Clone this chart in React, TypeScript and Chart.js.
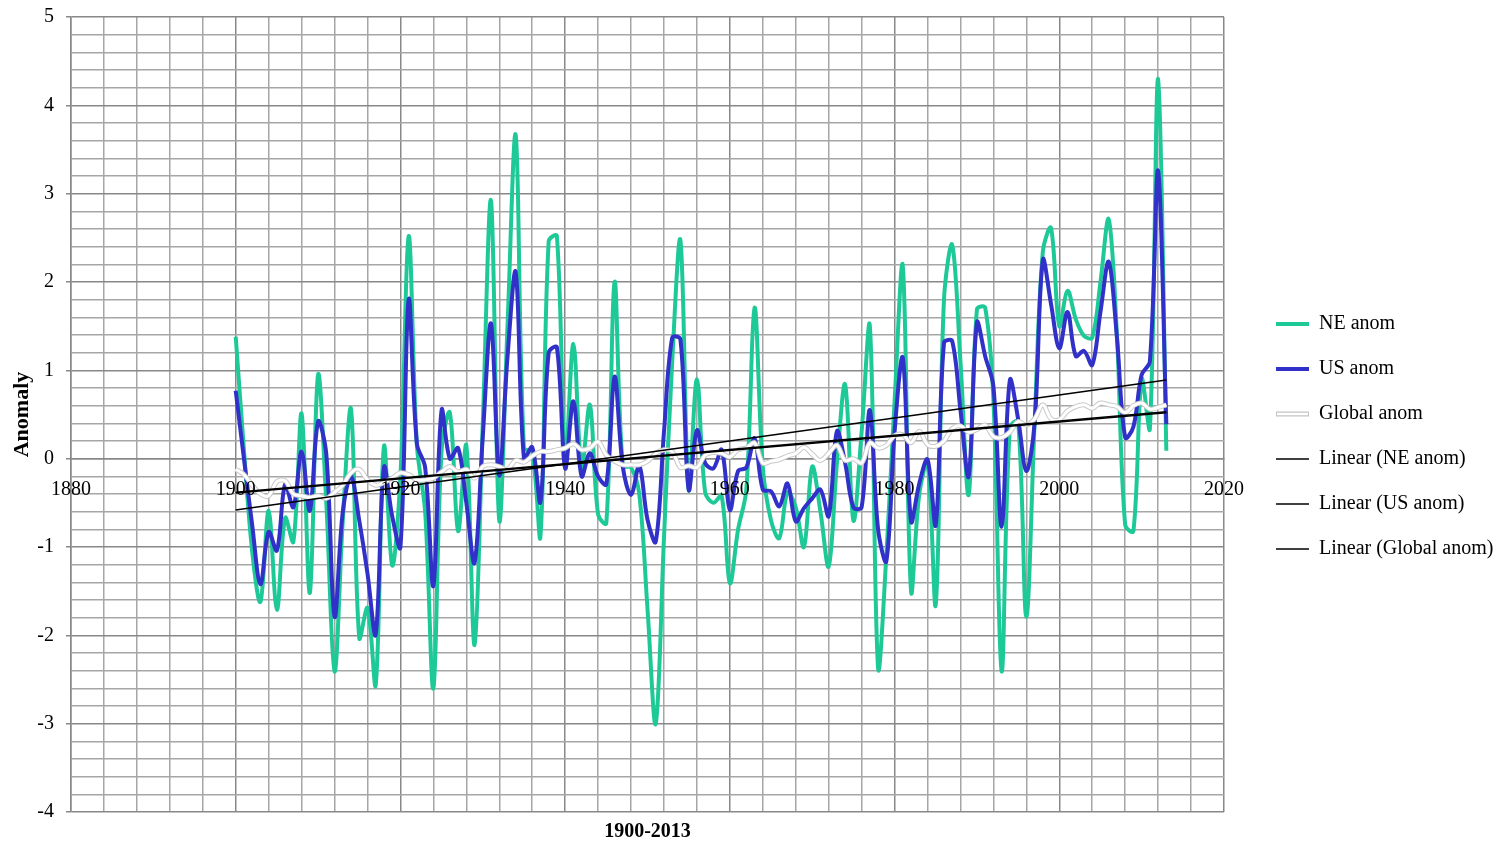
import React, { useEffect, useRef } from 'react';
import { Chart, registerables } from 'chart.js';

Chart.register(...registerables);

const FIRST_YEAR = 1900;

const neAnom = [
  1.38, 0.1, -1.05, -1.62, -0.59, -1.71, -0.67, -0.94, 0.51, -1.52,
  0.95, -0.5, -2.41, -0.7, 0.56, -2.03, -1.69, -2.56, 0.14, -1.21,
  -0.2, 2.52, 0.15, -0.6, -2.6, 0.1, 0.52, -0.82, 0.15, -2.11,
  0.4, 2.92, -0.7, 1.5, 3.66, 0.12, 0.08, -0.88, 2.46, 2.52,
  -0.05, 1.3, -0.1, 0.61, -0.63, -0.73, 2.0, -0.08, -0.1, -0.4,
  -1.7, -3.0, -0.9, 1.1, 2.47, -0.35, 0.9, -0.38, -0.5, -0.42,
  -1.41, -0.8, -0.35, 1.71, -0.1, -0.7, -0.9, -0.38, -0.55, -1.0,
  -0.09, -0.6, -1.22, -0.05, 0.84, -0.7, 0.3, 1.5, -2.37, -1.1,
  0.65, 2.18, -1.5, -0.4, -0.05, -1.65, 1.8, 2.42, 1.1, -0.41,
  1.69, 1.71, 0.67, -2.41, 0.35, 0.42, -1.79, 0.4, 2.34, 2.61,
  1.5, 1.9, 1.58, 1.39, 1.37, 2.0, 2.71, 1.4, -0.75, -0.82,
  0.9, 0.34, 4.3, 0.09,
];

const usAnom = [
  0.77, 0.0, -0.75, -1.42, -0.83, -1.04, -0.29, -0.55, 0.08, -0.59,
  0.42, 0.05, -1.79, -0.6, -0.2, -0.7, -1.3, -1.99, -0.1, -0.65,
  -1.0, 1.8, 0.17, -0.1, -1.44, 0.55, 0.0, 0.12, -0.5, -1.18,
  0.25, 1.53, -0.19, 1.15, 2.11, 0.0, 0.13, -0.49, 1.2, 1.26,
  -0.11, 0.65, -0.2, 0.06, -0.2, -0.29, 0.93, -0.09, -0.41, -0.08,
  -0.69, -0.94, 0.3, 1.37, 1.35, -0.35, 0.32, -0.05, -0.11, 0.1,
  -0.58, -0.14, -0.1, 0.23, -0.35, -0.37, -0.54, -0.28, -0.71, -0.56,
  -0.45, -0.35, -0.65, 0.31, -0.05, -0.55, -0.55, 0.55, -0.8, -1.16,
  0.3, 1.14, -0.71, -0.28, -0.01, -0.75, 1.31, 1.33, 0.55, -0.2,
  1.54, 1.16, 0.82, -0.77, 0.89, 0.45, -0.14, 0.4, 2.25, 1.75,
  1.25, 1.66, 1.16, 1.22, 1.06, 1.66, 2.23, 1.37, 0.24, 0.36,
  0.95, 1.1, 3.26, 0.39,
];

const globalAnom = [
  -0.12, -0.18, -0.3, -0.4, -0.42, -0.26, -0.25, -0.4, -0.42, -0.44,
  -0.42, -0.45, -0.38, -0.3, -0.16, -0.12, -0.24, -0.3, -0.27, -0.22,
  -0.16, -0.18, -0.24, -0.24, -0.22, -0.15, -0.09, -0.15, -0.12, -0.22,
  -0.09, -0.07, -0.09, -0.12, -0.02, -0.04, 0.03, 0.08, 0.08, 0.1,
  0.12, 0.17, 0.1, 0.12, 0.19, 0.04, -0.03, -0.07, -0.07, -0.07,
  -0.03, 0.06, 0.1, 0.08, -0.1, -0.08, -0.1, 0.04, 0.07, 0.06,
  0.02, 0.1, 0.12, 0.18, -0.05, -0.03, -0.01, 0.03, 0.06, 0.13,
  0.05, -0.02, 0.06, 0.15, -0.02, 0.0, -0.05, 0.18, 0.12, 0.15,
  0.26, 0.27, 0.18, 0.31, 0.16, 0.14, 0.2, 0.34, 0.37, 0.3,
  0.33, 0.38, 0.25, 0.24, 0.3, 0.42, 0.38, 0.45, 0.61, 0.45,
  0.44, 0.54, 0.59, 0.61, 0.57, 0.63, 0.61, 0.59, 0.52, 0.6,
  0.63, 0.56, 0.58, 0.61,
];

const years = neAnom.map((_, i) => FIRST_YEAR + i);

// Linear trend lines (end points)
const trendYears = [1900, 2013];
const neTrend = [-0.58, 0.89];
const usTrend = [-0.38, 0.53];
const globalTrend = [-0.39, 0.52];

const X_MIN = 1880;
const X_MAX = 2020;
const Y_MIN = -4;
const Y_MAX = 5;

const SERIF = "'Liberation Serif', 'Times New Roman', serif";
const NE_COLOR = '#1ec998';
const US_COLOR = '#3131c9';
const LEG_BOX = 33;

const pts = (xs: number[], ys: number[]) => xs.map((x, i) => ({ x, y: ys[i] }));
const isMajorY = (v: number) => Math.abs(v - Math.round(v)) < 1e-6;
const isMajorX = (v: number) => Math.abs((v - X_MIN) % 20) < 1e-6;

const GRID_MINOR = '#a6a6a6';
const GRID_MAJOR = '#888888';

const legendTweaks = {
  id: 'legendTweaks',
  afterLayout(chart: any) {
    const lg = chart.legend;
    if (!lg) return;
    lg.top += 6;
    lg.bottom += 6;
  },
  afterDraw(chart: any) {
    const lg = chart.legend;
    if (!lg || !lg.legendItems || !lg.legendHitBoxes) return;
    const idx = lg.legendItems.findIndex((it: any) => it.text === 'Global anom');
    if (idx < 0) return;
    const hb = lg.legendHitBoxes[idx];
    const ctx = chart.ctx;
    ctx.save();
    ctx.strokeStyle = '#ffffff';
    ctx.lineWidth = 2.5;
    ctx.beginPath();
    ctx.moveTo(hb.left + 1, hb.top + 10);
    ctx.lineTo(hb.left + LEG_BOX - 1, hb.top + 10);
    ctx.stroke();
    ctx.restore();
  },
};

export default function App() {
  const ref = useRef<HTMLCanvasElement>(null);

  useEffect(() => {
    if (!ref.current) return;
    const lineBase = {
      pointRadius: 0,
      pointHoverRadius: 0,
      fill: false,
      borderJoinStyle: 'round' as const,
    };
    const chart = new Chart(ref.current, {
      type: 'line',
      data: {
        datasets: [
          { ...lineBase, label: 'NE anom', data: pts(years, neAnom), borderColor: NE_COLOR, backgroundColor: NE_COLOR, borderWidth: 4, tension: 0.35, order: 7 },
          { ...lineBase, label: 'US anom', data: pts(years, usAnom), borderColor: US_COLOR, backgroundColor: US_COLOR, borderWidth: 4, tension: 0.35, order: 6 },
          { ...lineBase, label: 'Global outline', data: pts(years, globalAnom), borderColor: '#c9c9c9', backgroundColor: '#c9c9c9', borderWidth: 5, tension: 0.35, order: 5 },
          { ...lineBase, label: 'Global anom', data: pts(years, globalAnom), borderColor: '#ffffff', backgroundColor: '#ffffff', borderWidth: 3, tension: 0.35, order: 4 },
          { ...lineBase, label: 'Linear (NE anom)', data: pts(trendYears, neTrend), borderColor: '#000', backgroundColor: '#000', borderWidth: 1.5, tension: 0, order: 3 },
          { ...lineBase, label: 'Linear (US anom)', data: pts(trendYears, usTrend), borderColor: '#000', backgroundColor: '#000', borderWidth: 1.5, tension: 0, order: 2 },
          { ...lineBase, label: 'Linear (Global anom)', data: pts(trendYears, globalTrend), borderColor: '#000', backgroundColor: '#000', borderWidth: 1.5, tension: 0, order: 1 },
        ],
      },
      options: {
        responsive: true,
        maintainAspectRatio: false,
        animation: false,
        layout: { padding: { left: 0, top: 17, right: 0, bottom: 0 } },
        plugins: {
          tooltip: { enabled: false },
          legend: {
            position: 'right',
            align: 'center',
            maxWidth: 246,
            labels: {
              usePointStyle: true,
              pointStyle: 'line',
              pointStyleWidth: LEG_BOX,
              padding: 25,
              color: '#000',
              font: { family: SERIF, size: 20 },
              filter: (item: any) => item.datasetIndex !== 2,
              sort: (a: any, b: any) => a.datasetIndex - b.datasetIndex,
              generateLabels: (c: any) => {
                const items = (Chart as any).defaults.plugins.legend.labels.generateLabels(c);
                items.forEach((it: any) => {
                  if (it.datasetIndex === 3) {
                    it.strokeStyle = '#c4c4c4';
                    it.lineWidth = 5;
                  }
                });
                return items;
              },
            },
          },
        },
        scales: {
          x: {
            type: 'linear',
            position: { y: 0 } as any,
            min: X_MIN,
            max: X_MAX,
            afterFit: (s: any) => { s.height = 0; },
            ticks: {
              stepSize: 4,
              autoSkip: false,
              maxRotation: 0,
              padding: 11,
              z: 1,
              color: '#000',
              font: { family: SERIF, size: 20 },
              callback: (v: any) => (isMajorX(Number(v)) ? String(v) : ''),
            },
            grid: {
              color: (c: any) => (isMajorX(c.tick.value) ? GRID_MAJOR : GRID_MINOR),
              lineWidth: 1.5,
              tickLength: 8,
              tickColor: 'rgba(0,0,0,0)',
            },
            border: { display: true, color: GRID_MAJOR, width: 1.5 },
          },
          x2: {
            type: 'linear',
            position: 'bottom',
            min: X_MIN,
            max: X_MAX,
            grid: { display: false, drawTicks: false },
            border: { display: false },
            ticks: { display: false },
            title: {
              display: true,
              text: '1900-2013',
              color: '#000',
              font: { family: SERIF, size: 20, weight: 'bold' },
              padding: { top: 8, bottom: 0 },
            },
          },
          y: {
            type: 'linear',
            position: 'left',
            min: Y_MIN,
            max: Y_MAX,
            afterFit: (s: any) => { s.width = 71; s.paddingTop = 0; s.paddingBottom = 0; },
            ticks: {
              stepSize: 0.2,
              autoSkip: false,
              padding: 12,
              color: '#000',
              font: { family: SERIF, size: 20 },
              callback: (v: any) => (isMajorY(Number(v)) ? String(Math.round(Number(v))) : ''),
            },
            grid: {
              color: (c: any) => (isMajorY(c.tick.value) ? GRID_MAJOR : GRID_MINOR),
              lineWidth: 1.5,
              tickLength: 5,
              tickColor: (c: any) => (isMajorY(c.tick.value) ? GRID_MAJOR : 'rgba(0,0,0,0)'),
            },
            border: { color: GRID_MAJOR, width: 1.5 },
            title: {
              display: true,
              text: 'Anomaly',
              color: '#000',
              font: { family: SERIF, size: 22, weight: 'bold' },
              padding: { top: 9, bottom: 0 },
            },
          },
          y2: {
            type: 'linear',
            position: 'right',
            grid: { display: false, drawTicks: false },
            border: { display: false },
            ticks: { display: false },
            afterFit: (s: any) => { s.width = 27; s.paddingTop = 0; s.paddingBottom = 0; },
          },
        },
      } as any,
      plugins: [legendTweaks],
    });
    return () => chart.destroy();
  }, []);

  return (
    <div style={{ position: 'fixed', left: 0, top: 0, width: 1497, height: 844, background: '#ffffff' }}>
      <canvas ref={ref} />
    </div>
  );
}
